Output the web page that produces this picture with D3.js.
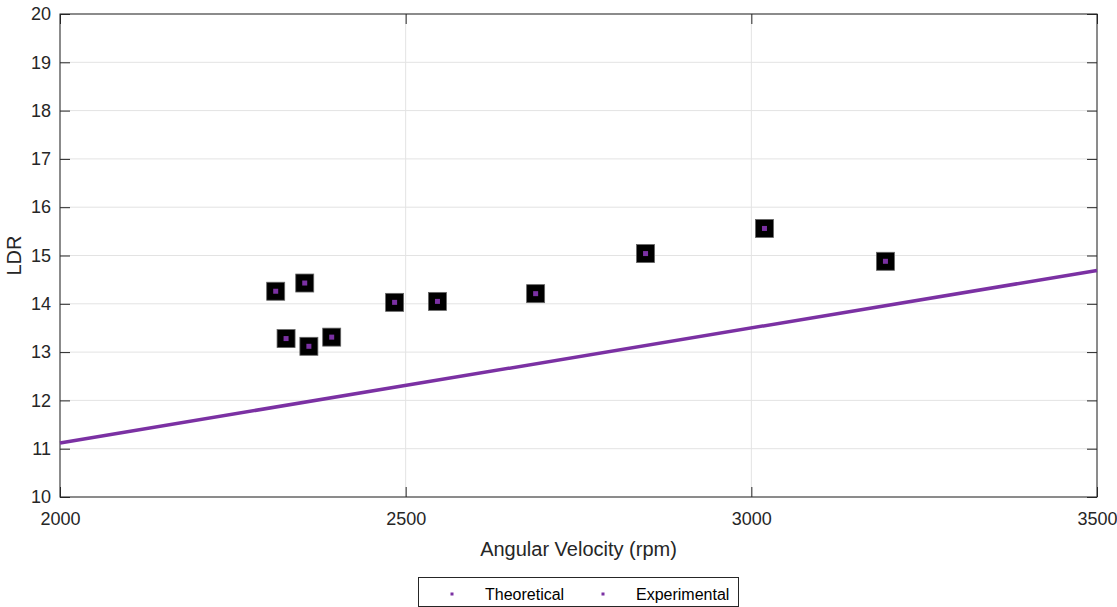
<!DOCTYPE html>
<html><head><meta charset="utf-8">
<script src="https://cdn.jsdelivr.net/npm/d3@7"></script>
<style>body{margin:0;background:#fff}svg{display:block}</style>
</head><body>
<svg id="c" width="1117" height="607"></svg>
<script>
const xTicks = [2000, 2500, 3000, 3500];
const yTicks = [10, 11, 12, 13, 14, 15, 16, 17, 18, 19, 20];
const theoX = [2000, 3500];
const theoY = [11.12, 14.69];
const expX = [2312, 2327, 2354, 2360, 2393, 2484, 2546, 2688, 2847, 3019, 3194];
const expY = [14.26, 13.28, 14.43, 13.12, 13.31, 14.03, 14.05, 14.21, 15.04, 15.56, 14.88];
const legendLabels = ["Theoretical", "Experimental"];

const svg = d3.select("#c");
const L = 60, R = 1097, T = 14, B = 497;
const x = d3.scaleLinear().domain([2000, 3500]).range([L, R]);
const y = d3.scaleLinear().domain([10, 20]).range([B, T]);
const font = "Liberation Sans, Arial, sans-serif";
const purple = "#7B31A3";

// grid
svg.append("g").selectAll("line").data(yTicks).join("line")
  .attr("x1", L).attr("x2", R).attr("y1", d => y(d)).attr("y2", d => y(d))
  .attr("stroke", "#e3e3e3").attr("stroke-width", 1);
svg.append("g").selectAll("line").data(xTicks).join("line")
  .attr("y1", T).attr("y2", B).attr("x1", d => x(d)).attr("x2", d => x(d))
  .attr("stroke", "#e3e3e3").attr("stroke-width", 1);

// axes
const ax = svg.append("g").attr("transform", `translate(0,${B})`)
  .call(d3.axisBottom(x).tickValues(xTicks).tickSize(-10).tickPadding(15).tickFormat(d3.format("d")));
const ay = svg.append("g").attr("transform", `translate(${L},0)`)
  .call(d3.axisLeft(y).tickValues(yTicks).tickSize(-10).tickPadding(9).tickFormat(d3.format("d")));
const ayr = svg.append("g").attr("transform", `translate(${R},0)`)
  .call(d3.axisRight(y).tickValues(yTicks).tickSize(-10).tickFormat(""));
const axt = svg.append("g").attr("transform", `translate(0,${T})`)
  .call(d3.axisTop(x).tickValues(xTicks).tickSize(-10).tickFormat(""));
[ax, ay, ayr, axt].forEach(g => {
  g.select(".domain").remove();
  g.selectAll("line").attr("stroke", "#262626");
  g.selectAll("text").attr("font-family", font).attr("font-size", 18).attr("fill", "#262626");
});
svg.append("rect").attr("x", L).attr("y", T).attr("width", R - L).attr("height", B - T)
  .attr("fill", "none").attr("stroke", "#262626").attr("stroke-width", 1);

// theoretical line
svg.append("path").datum(theoX.map((d, i) => [d, theoY[i]]))
  .attr("d", d3.line().x(d => x(d[0])).y(d => y(d[1])))
  .attr("stroke", purple).attr("stroke-width", 3.5).attr("fill", "none");

// experimental points
const pts = svg.append("g").selectAll("g").data(expX.map((d, i) => [d, expY[i]])).join("g")
  .attr("transform", d => `translate(${x(d[0])},${y(d[1])})`);
pts.append("rect").attr("x", -9).attr("y", -9).attr("width", 18).attr("height", 18)
  .attr("fill", "#000").attr("stroke", "#666").attr("stroke-width", 0.8);
pts.append("rect").attr("x", -2.5).attr("y", -2.5).attr("width", 5).attr("height", 5).attr("fill", purple);

// labels
svg.append("text").attr("x", (L + R) / 2).attr("y", 556).attr("text-anchor", "middle")
  .attr("font-family", font).attr("font-size", 20).attr("fill", "#262626").text("Angular Velocity (rpm)");
svg.append("text").attr("transform", `translate(21,${(T + B) / 2}) rotate(-90)`).attr("text-anchor", "middle")
  .attr("font-family", font).attr("font-size", 20).attr("fill", "#262626").text("LDR");

// legend
const lg = svg.append("g");
lg.append("rect").attr("x", 418.5).attr("y", 577.5).attr("width", 320).attr("height", 29)
  .attr("fill", "#fff").attr("stroke", "#262626").attr("stroke-width", 1);
const lx = [452, 603];
legendLabels.forEach((t, i) => {
  lg.append("rect").attr("x", lx[i] - 1.5).attr("y", 594 - 1.5).attr("width", 3).attr("height", 3).attr("fill", purple);
  lg.append("text").attr("x", lx[i] + 33).attr("y", 600).attr("font-family", font).attr("font-size", 16)
    .attr("fill", "#000").text(t);
});
</script>
</body></html>
